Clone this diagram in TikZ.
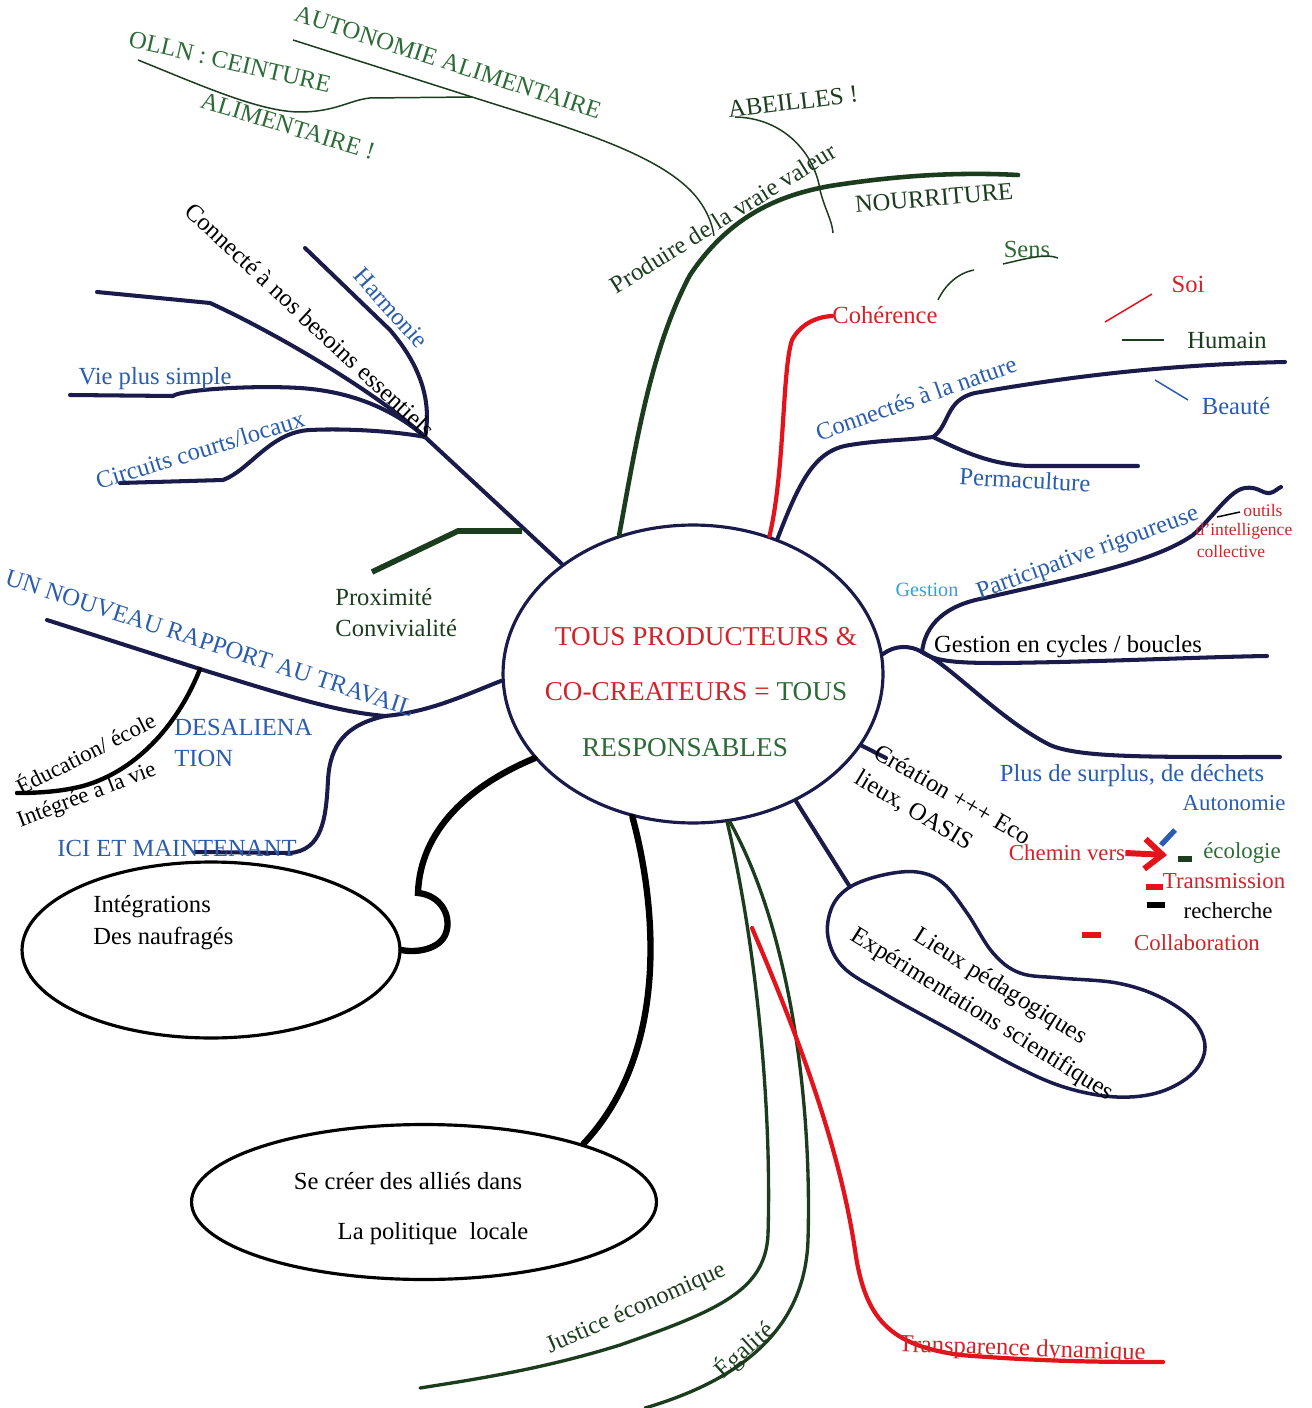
\documentclass[tikz,border=0pt]{standalone}
\usepackage{fontspec}
\setmainfont{Liberation Serif}
\usetikzlibrary{arrows.meta,shapes.geometric}

\definecolor{navy}{HTML}{1B1B4B}
\definecolor{darkgreen}{HTML}{1B3D1E}
\definecolor{leafgreen}{HTML}{2B6B35}
\definecolor{inkblue}{HTML}{2A5DAE}
\definecolor{skyblue}{HTML}{2FA3D2}
\definecolor{inkred}{HTML}{D2232A}
\definecolor{penred}{HTML}{E3121B}

\begin{document}
\begin{tikzpicture}[x=0.02cm, y=-0.02cm,
    navyline/.style={draw=navy, line width=2.3pt, line cap=round},
    trunk/.style={draw=darkgreen, line width=2.6pt, line cap=round},
    greenline/.style={draw=darkgreen, line width=1.9pt, line cap=round},
    thinline/.style={line width=0.85pt},
    blackline/.style={draw=black, line width=3.6pt, line cap=round},
    redline/.style={draw=penred, line width=2.4pt, line cap=round},
    colmark/.style={line width=3pt},
    bubble/.style={draw, ellipse, line width=1.8pt, inner sep=0pt},
    txt/.style={inner sep=0pt, font=\fontsize{14}{16}\selectfont},
    smalltxt/.style={inner sep=0pt, font=\fontsize{13}{15}\selectfont},
    tinytxt/.style={inner sep=0pt, font=\fontsize{10}{12}\selectfont},
    bigtxt/.style={inner sep=0pt, font=\fontsize{15.5}{18}\selectfont}
]
    \fill[white] (0,0) rectangle (1311,1408);
    \useasboundingbox (0,0) rectangle (1311,1408);

    % Bulles
    \node[bubble, draw=navy, minimum width=7.6cm, minimum height=5.96cm] (centre) at (693,674) {};
    \node[bubble, minimum width=7.56cm, minimum height=3.52cm] (integ) at (211,950) {};
    \node[bubble, minimum width=9.3cm, minimum height=3.1cm] (politique) at (424,1202) {};

    \node[bigtxt, text=inkred] (tous1) at (706,637) {TOUS PRODUCTEURS \&};
    \node[bigtxt] (tous2) at (696,692) {\textcolor{inkred}{CO-CREATEURS =} \textcolor{leafgreen}{TOUS}};
    \node[bigtxt, text=leafgreen] (tous3) at (685,748) {RESPONSABLES};

    % Points de jonction
    \coordinate (hubNW) at (425,437);
    \coordinate (hubE) at (933,437);
    \coordinate (hubR) at (922,652);
    \coordinate (hubL) at (385,716);
    \coordinate (eduJoin) at (200,669);
    \coordinate (lieuxTop) at (850,887);
    \coordinate (autoJoin) at (714,236);
    \coordinate (ollnJoin) at (472,97);

    % Nourriture
    \draw[trunk] (centre.118) .. controls (635,450) and (650,350) .. (690,275)
        .. controls (730,215) and (780,195) .. (830,186)
        .. controls (900,175) and (960,172) .. (1018,175);
    \draw[thinline, darkgreen] (293,40) -- (ollnJoin) .. controls (560,125) and (650,150) .. (690,190)
        .. controls (705,205) and (712,222) .. (autoJoin);
    \draw[thinline, darkgreen] (138,60) .. controls (200,85) and (260,112) .. (300,112)
        .. controls (335,112) and (350,100) .. (370,98) -- (ollnJoin);
    \draw[thinline, darkgreen] (735,117) .. controls (785,118) and (815,155) .. (820,190)
        .. controls (825,210) and (832,220) .. (833,233);
    \node[txt, text=leafgreen, rotate=-18] (autonomie) at (448,62) {AUTONOMIE ALIMENTAIRE};
    \node[txt, text=leafgreen, rotate=-13] (olln) at (230,62) {OLLN : CEINTURE};
    \node[txt, text=leafgreen, rotate=-17] (alim) at (288,126) {ALIMENTAIRE !};
    \node[txt, text=darkgreen, rotate=7] (abeilles) at (793,102) {ABEILLES !};
    \node[txt, text=darkgreen, rotate=32] (produire) at (723,218) {Produire de la vraie valeur};
    \node[txt, text=darkgreen, rotate=5] (nourriture) at (934,198) {NOURRITURE};

    % Besoins essentiels
    \draw[navyline] (centre.140) -- (hubNW);
    \draw[navyline] (305,248) -- (390,330) .. controls (420,365) and (432,400) .. (hubNW);
    \draw[navyline] (97,292) -- (210,303) .. controls (280,335) and (380,395) .. (hubNW);
    \draw[navyline] (70,395) -- (173,396) .. controls (180,390) and (250,385) .. (300,388)
        .. controls (360,392) and (400,415) .. (hubNW);
    \draw[navyline] (120,483) -- (223,480) .. controls (250,470) and (270,432) .. (310,430)
        .. controls (350,428) and (400,432) .. (hubNW);
    \node[txt, rotate=-43] (besoins) at (310,320) {Connecté à nos besoins essentiels};
    \node[txt, text=inkblue, rotate=-48] (harmonie) at (391,308) {Harmonie};
    \node[txt, text=inkblue] (simple) at (155,379) {Vie plus simple};
    \node[txt, text=inkblue, rotate=17] (circuits) at (200,450) {Circuits courts/locaux};

    % Proximite
    \draw[darkgreen, line width=3.2pt] (522,531) -- (458,531) -- (372,572);
    \node[txt, text=darkgreen, anchor=west] (proxi) at (335,597) {Proximité};
    \node[txt, text=darkgreen, anchor=west] (convi) at (335,628) {Convivialité};

    % Coherence
    \draw[redline] (centre.61) .. controls (785,470) and (782,370) .. (792,340)
        .. controls (800,325) and (815,317) .. (832,316);
    \node[txt, text=inkred, anchor=west] (coherence) at (832,315) {Cohérence};
    \draw[thinline, darkgreen] (938,300) .. controls (945,285) and (958,273) .. (974,270);
    \node[txt, text=leafgreen] (sens) at (1027,249) {Sens};
    \draw[thinline, darkgreen] (1003,264) .. controls (1025,259) and (1045,253) .. (1058,258);
    \draw[thinline, penred] (1105,322) -- (1152,294);
    \node[txt, text=inkred] (soi) at (1188,284) {Soi};
    \draw[thinline, darkgreen] (1122,340) -- (1164,340);
    \node[txt, text=darkgreen] (humain) at (1227,340) {Humain};

    % Nature
    \draw[navyline] (centre.58) .. controls (800,480) and (815,450) .. (850,445)
        .. controls (880,440) and (910,440) .. (hubE);
    \draw[navyline] (hubE) .. controls (950,425) and (945,400) .. (975,393)
        .. controls (1050,380) and (1150,365) .. (1285,362);
    \draw[navyline] (hubE) .. controls (960,450) and (990,465) .. (1030,466) -- (1138,466);
    \node[txt, text=inkblue, rotate=19.5] (nature) at (916,398) {Connectés à la nature};
    \node[txt, text=inkblue, rotate=-3] (perma) at (1025,480) {Permaculture};
    \draw[thinline, inkblue] (1155,380) -- (1188,400);
    \node[txt, text=inkblue] (beaute) at (1236,406) {Beauté};

    % Gestion
    \draw[navyline] (centre.6) .. controls (895,645) and (910,645) .. (hubR);
    \draw[navyline] (hubR) .. controls (925,625) and (945,605) .. (985,598)
        .. controls (1060,580) and (1150,565) .. (1193,535)
        .. controls (1215,515) and (1230,490) .. (1245,488)
        .. controls (1258,486) and (1262,494) .. (1270,493)
        .. controls (1275,492) and (1278,488) .. (1281,487);
    \draw[navyline] (hubR) .. controls (935,662) and (960,663) .. (1000,663)
        .. controls (1100,662) and (1200,657) .. (1267,656);
    \draw[navyline] (hubR) .. controls (950,665) and (1000,720) .. (1050,745)
        .. controls (1080,758) and (1150,757) .. (1280,757);
    \draw[thinline] (1217,517) -- (1240,512);
    \node[tinytxt, text=inkred] (outils) at (1263,510) {outils};
    \node[tinytxt, text=inkred] (intel) at (1244,531) {d'intelligence};
    \node[tinytxt, text=inkred] (collec) at (1231,551) {collective};
    \node[inner sep=0pt, font=\fontsize{11.5}{13}\selectfont, text=skyblue] (gestion) at (927,590) {Gestion};
    \node[txt, text=inkblue, rotate=20] (particip) at (1088,554) {Participative rigoureuse};
    \node[txt] (cycles) at (1068,647) {Gestion en cycles / boucles};
    \node[txt, text=inkblue] (surplus) at (1132,776) {Plus de surplus, de déchets};
    \node[smalltxt, text=inkblue] (autonom) at (1234,803) {Autonomie};

    % Eco lieux
    \draw[navyline] (centre.-23) -- (886,758);
    \node[txt, rotate=-30] (creation) at (953,794) {Création +++ Eco};
    \node[txt, rotate=-31] (oasis) at (914,811) {lieux, OASIS};

    % Chemin vers
    \node[smalltxt, text=inkred] (chemin) at (1067,853) {Chemin vers};
    \draw[penred, line width=3.4pt, -{Straight Barb[length=10pt, width=17pt]}] (chemin.east) -- (1167,855);
    \draw[colmark, inkblue] (1161,845) -- (1175,830);
    \draw[colmark, darkgreen] (1178,859) -- (1192,859);
    \draw[colmark, penred] (1146,887) -- (1163,887);
    \draw[colmark, black] (1147,905) -- (1165,905);
    \draw[colmark, penred] (1082,935) -- (1101,935);
    \node[smalltxt, text=leafgreen] (ecologie) at (1242,853) {écologie};
    \node[smalltxt, text=inkred] (transm) at (1224,881) {Transmission};
    \node[smalltxt] (recherche) at (1228,911) {recherche};
    \node[smalltxt, text=inkred] (collab) at (1197,943) {Collaboration};

    % Lieux pedagogiques
    \draw[navyline] (centre.-51) -- (lieuxTop);
    \draw[navy, line width=2pt] plot[smooth cycle, tension=0.6] coordinates {
        (850,887) (883,875) (917,872) (943,883) (967,913) (993,953) (1020,973)
        (1060,978) (1117,983) (1160,997) (1193,1020) (1205,1047) (1193,1073)
        (1160,1092) (1117,1097) (1067,1088) (1017,1067) (950,1030) (883,993)
        (843,967) (828,937) (832,907)};
    \node[txt, rotate=-32] (lieux) at (1000,987) {Lieux pédagogiques};
    \node[txt, rotate=-32] (experi) at (982,1015) {Expérimentations scientifiques};

    % Travail
    \draw[navyline] (centre.182) .. controls (465,695) and (430,712) .. (hubL)
        .. controls (340,712) and (300,700) .. (eduJoin) -- (47,620);
    \draw[draw=black, line width=2.5pt, line cap=round] (eduJoin) .. controls (180,720) and (140,770) .. (83,786)
        .. controls (60,792) and (35,793) .. (17,793);
    \draw[navyline] (hubL) .. controls (345,725) and (330,745) .. (328,780)
        .. controls (326,820) and (322,850) .. (290,853) -- (195,852);
    \node[txt, text=inkblue, rotate=-18] (travail) at (210,643) {UN NOUVEAU RAPPORT AU TRAVAIL};
    \node[inner sep=0pt, font=\fontsize{13}{15}\selectfont, rotate=27] (educ) at (85,752) {Éducation/ école};
    \node[inner sep=0pt, font=\fontsize{13}{15}\selectfont, rotate=21] (integree) at (87,796) {Intégrée à la vie};
    \node[txt, text=inkblue, anchor=west] (desal) at (174,727) {DESALIENA};
    \node[txt, text=inkblue, anchor=west] (tion) at (174,758) {TION};
    \node[txt, text=inkblue] (ici) at (177,848) {ICI ET MAINTENANT};

    % Naufrages
    \draw[blackline] (centre.-152) .. controls (470,785) and (420,830) .. (418,893)
        .. controls (440,895) and (452,915) .. (446,933)
        .. controls (440,950) and (415,953) .. (integ.east);
    \node[txt, anchor=west] (integr1) at (93,907) {Intégrations};
    \node[txt, anchor=west] (integr2) at (93,938) {Des naufragés};

    % Politique locale
    \draw[blackline] (centre.-113) .. controls (655,900) and (672,1050) .. (politique.20);
    \node[txt] (allies) at (408,1181) {Se créer des alliés dans};
    \node[txt] (locale) at (433,1234) {La politique~~locale};

    % Justice, egalite, transparence
    \draw[greenline] (centre.-77) .. controls (755,940) and (772,1100) .. (768,1235)
        .. controls (765,1290) and (720,1310) .. (620,1345)
        .. controls (540,1370) and (470,1380) .. (420,1388);
    \draw[greenline] (centre.-76) .. controls (790,930) and (812,1100) .. (808,1240)
        .. controls (805,1330) and (740,1380) .. (645,1408);
    \coordinate (transStart) at (752,928);
    \draw[redline] (transStart) .. controls (800,1040) and (840,1150) .. (855,1250)
        .. controls (865,1320) and (890,1345) .. (960,1355)
        .. controls (1050,1362) and (1110,1362) .. (1163,1362);
    \node[txt, text=darkgreen, rotate=24] (justice) at (636,1309) {Justice économique};
    \node[txt, text=darkgreen, rotate=42] (egalite) at (744,1350) {Égalité};
    \node[txt, text=inkred, rotate=-2] (transp) at (1022,1350) {Transparence dynamique};

\end{tikzpicture}
\end{document}
